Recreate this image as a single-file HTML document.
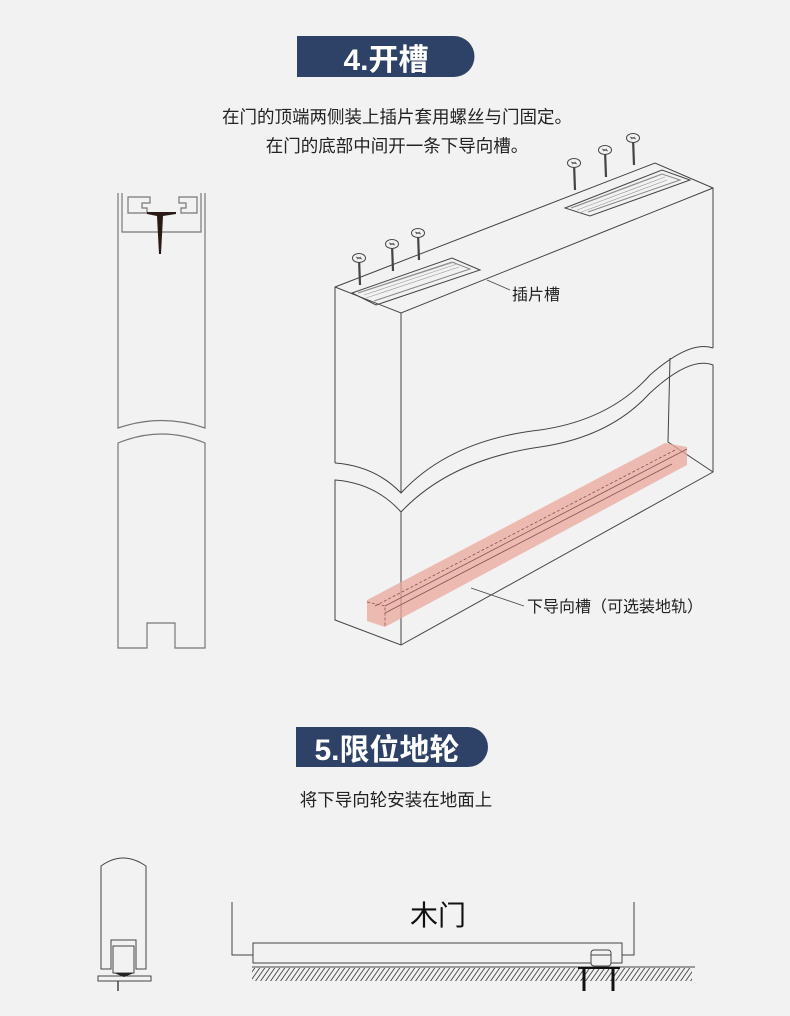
<!DOCTYPE html>
<html><head><meta charset="utf-8"><style>
html,body{margin:0;padding:0;background:#f2f2f2;}
svg{display:block;font-family:"Liberation Sans","Noto Sans CJK SC",sans-serif;}
</style></head><body>
<svg width="790" height="1016" viewBox="0 0 790 1016" xmlns="http://www.w3.org/2000/svg">
<rect width="790" height="1016" fill="#f2f2f2"/>
<defs>
<pattern id="hatch" width="5" height="12" patternUnits="userSpaceOnUse" patternTransform="skewX(-35)">
<line x1="2.5" y1="0" x2="2.5" y2="12" stroke="#444" stroke-width="1.1"/>
</pattern>
</defs>
<path d="M297 36 H454 A20.5 20.5 0 0 1 454 77 H297 Z" fill="#2d4266"/>
<text x="386" y="70" font-size="30" font-weight="bold" fill="#fff" text-anchor="middle">4.开槽</text>
<path d="M296 727 H468 A20 20 0 0 1 468 767 H296 Z" fill="#2d4266"/>
<text x="387" y="760" font-size="30" font-weight="bold" fill="#fff" text-anchor="middle">5.限位地轮</text>
<g font-size="17.5" fill="#222" text-anchor="middle">
<text x="397" y="123">在门的顶端两侧装上插片套用螺丝与门固定。</text>
<text x="397" y="152">在门的底部中间开一条下导向槽。</text>
<text x="396" y="806">将下导向轮安装在地面上</text>
</g>
<g fill="none" stroke="#777" stroke-width="1.2">
<path d="M118 193 V428 Q162 413 205 428 V193"/>
<path d="M122 193 V232 H201 V193"/>
<path d="M128 197 H150 V203 H142 V208 H147 V213 H128 Z"/>
<path d="M197 197 H179 V203 H186 V208 H181 V213 H197 Z"/>
<path d="M118 648 V443 Q162 425 205 443 V648 H175 V623 H147 V648 Z"/>
</g>
<path d="M147 212 H176 L176 214 L163 216 L161 254 L159 254 L157 216 L147 214 Z" fill="#2a1a16"/>
<g fill="none" stroke="#444" stroke-width="1">
<path d="M335 463 V287 L655 163 L713 188 V348"/>
<path d="M335 287 L401 313 L713 188"/>
<path d="M401 313 V493"/>
<path d="M335 463 Q375 466 401 493 Q450 440 540 430 Q610 420 650 375 Q690 340 713 348"/>
<path d="M335 480 Q375 483 401 512 Q450 460 540 447 Q610 437 650 393 Q690 356 713 365 V472 L401 645 L335 620 Z"/>
<path d="M401 512 V645"/>
<path d="M670 358 L668 442 L713 472"/>
<path d="M352 293 L452 258 L480 270 L376 305 Z"/>
<path d="M358 293 L452 262 L470 269 L374 301" stroke="#888"/>
<path d="M565 208 L662 170 L690 180 L590 216 Z"/>
<path d="M571 208 L662 174 L680 180 L588 212" stroke="#888"/>
</g>
<g stroke="#999" stroke-width="0.6">
<path d="M362 292 L455 262 M364 295 L457 264 M366 298 L459 267"/>
<path d="M575 207 L663 174 M577 210 L665 177 M579 213 L667 180"/>
</g>
<g stroke="#444" fill="#f2f2f2" stroke-width="1">
<g transform="translate(359,258)"><line x1="0" y1="0" x2="1" y2="27" stroke-width="2.2"/><ellipse cx="0" cy="0" rx="6.5" ry="4.5"/><path d="M-3 -1 L3 1 M-2 1 L2 -1" stroke-width="0.8"/></g>
<g transform="translate(392,244)"><line x1="0" y1="0" x2="1" y2="27" stroke-width="2.2"/><ellipse cx="0" cy="0" rx="6.5" ry="4.5"/><path d="M-3 -1 L3 1 M-2 1 L2 -1" stroke-width="0.8"/></g>
<g transform="translate(418,233)"><line x1="0" y1="0" x2="1" y2="27" stroke-width="2.2"/><ellipse cx="0" cy="0" rx="6.5" ry="4.5"/><path d="M-3 -1 L3 1 M-2 1 L2 -1" stroke-width="0.8"/></g>
<g transform="translate(574,163)"><line x1="0" y1="0" x2="1" y2="27" stroke-width="2.2"/><ellipse cx="0" cy="0" rx="6.5" ry="4.5"/><path d="M-3 -1 L3 1 M-2 1 L2 -1" stroke-width="0.8"/></g>
<g transform="translate(605,150)"><line x1="0" y1="0" x2="1" y2="27" stroke-width="2.2"/><ellipse cx="0" cy="0" rx="6.5" ry="4.5"/><path d="M-3 -1 L3 1 M-2 1 L2 -1" stroke-width="0.8"/></g>
<g transform="translate(633,138)"><line x1="0" y1="0" x2="1" y2="27" stroke-width="2.2"/><ellipse cx="0" cy="0" rx="6.5" ry="4.5"/><path d="M-3 -1 L3 1 M-2 1 L2 -1" stroke-width="0.8"/></g>
</g>
<path d="M367 600 L665 443 L687 447 L687 465 L385 627 L367 621 Z" fill="#eba79c" fill-opacity="0.75"/>
<g fill="none" stroke="#8a5050" stroke-width="0.8">
<path d="M385 606 L687 449"/>
<path d="M385 613 L672 464"/>
<path d="M367 602 L385 606 V627" stroke-dasharray="3 2"/>
<path d="M375 606 L677 449" stroke-dasharray="3 2"/>
</g>
<g fill="none" stroke="#444" stroke-width="0.8">
<path d="M487 280 L510 290"/>
<path d="M471 588 L524 606"/>
</g>
<text x="512" y="300" font-size="16" fill="#222">插片槽</text>
<text x="527" y="612" font-size="16" fill="#222">下导向槽（可选装地轨）</text>
<g fill="none" stroke="#444" stroke-width="1">
<path d="M101 969 V866 Q123 850 146 866 V969 H136 V940 H111 V969 Z"/>
<rect x="113" y="946" width="21" height="27"/>
<rect x="98" y="976" width="53" height="5"/>
<line x1="118" y1="981" x2="118" y2="991" stroke-width="1.5"/>
</g>
<path d="M114 973 H134 L124 977 Z" fill="#222"/>
<rect x="252" y="968" width="440" height="13" fill="url(#hatch)"/>
<g fill="none" stroke="#444" stroke-width="1">
<path d="M232 902 V955 H253"/>
<rect x="253" y="943" width="369" height="20"/>
<path d="M622 955 H634 V902"/>
<line x1="252" y1="967" x2="695" y2="967"/>
<rect x="591" y="950" width="20" height="16" rx="3" fill="#f2f2f2"/>
<line x1="591" y1="955" x2="611" y2="955"/>
</g>
<g stroke="#111" stroke-width="3">
<line x1="584" y1="968" x2="584" y2="991"/>
<line x1="613" y1="968" x2="613" y2="991"/>
<line x1="578" y1="968" x2="620" y2="968" stroke-width="2"/>
</g>
<text x="438" y="925" font-size="28" fill="#111" text-anchor="middle">木门</text>
</svg>
</body></html>
